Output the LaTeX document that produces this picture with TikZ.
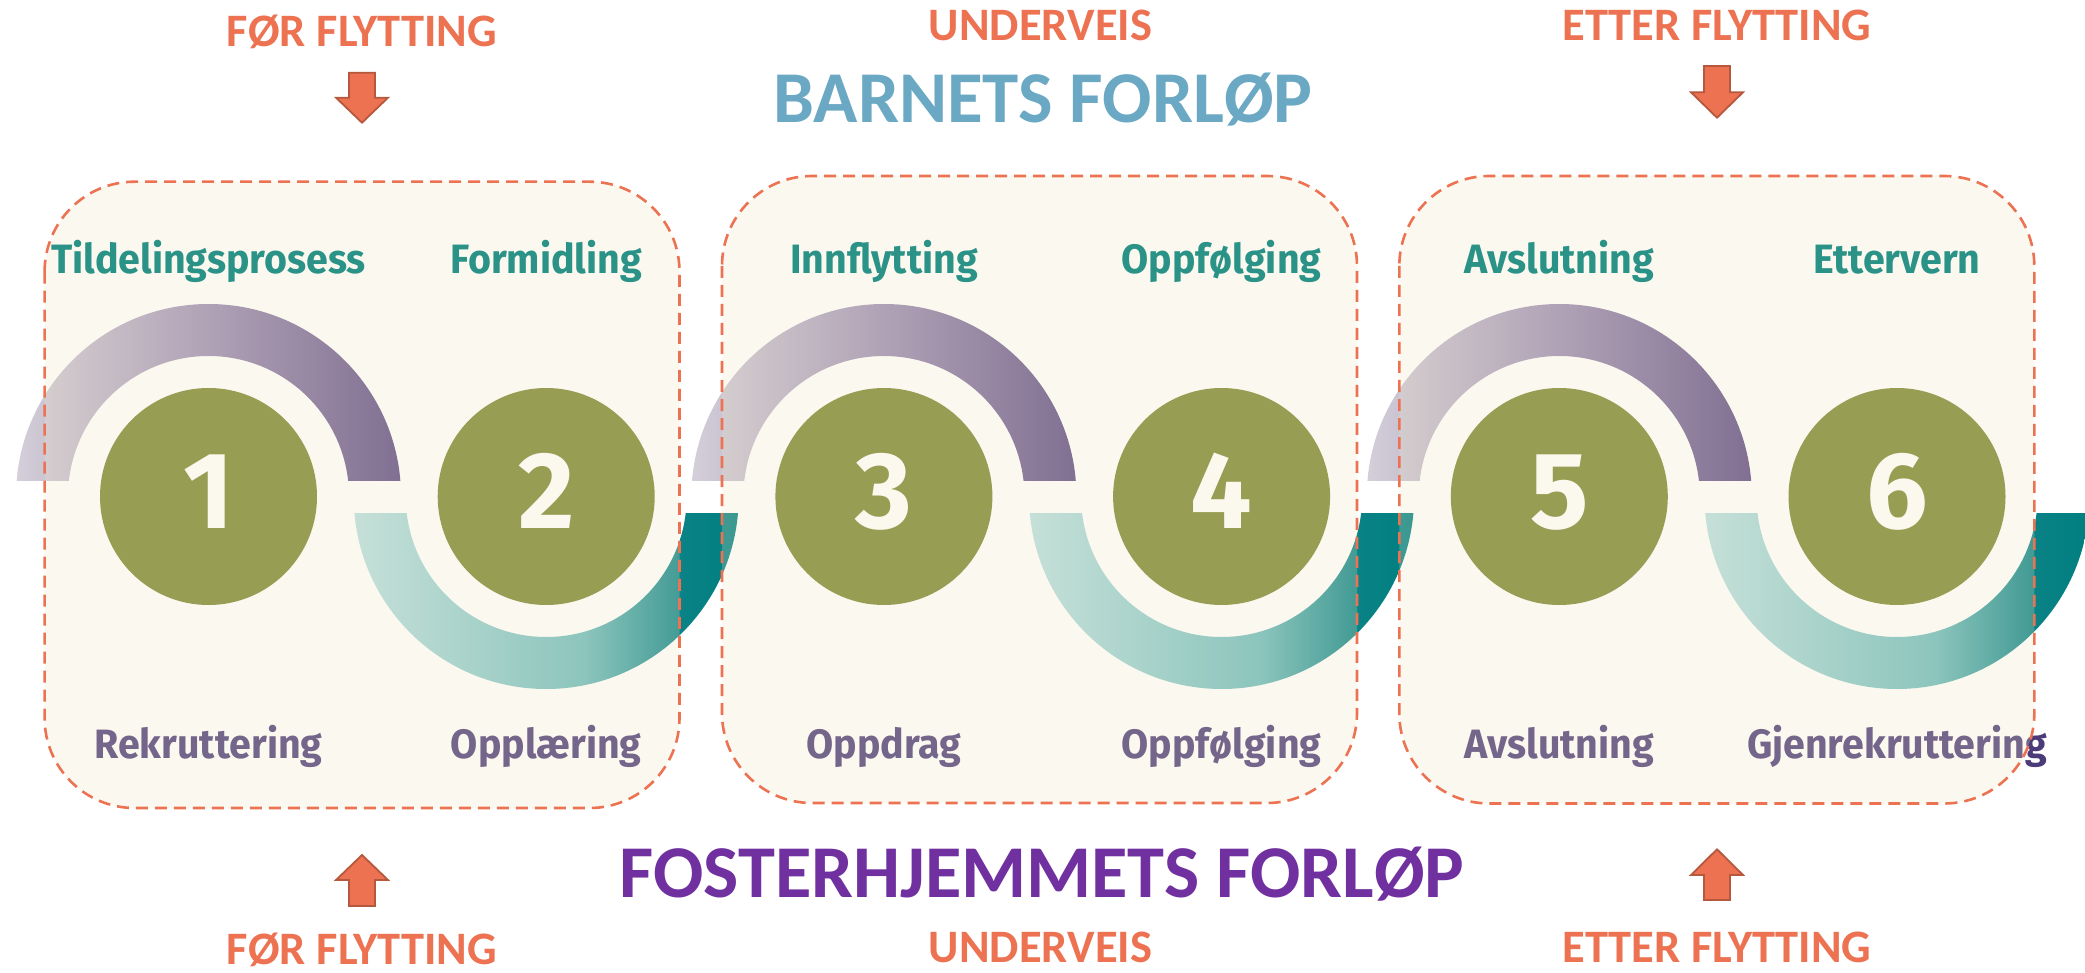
\documentclass[tikz,border=0pt]{standalone}
\usepackage{fontspec}
\newfontfamily\lblfont[FakeStretch=0.96]{Fira Sans}
\newfontfamily\numfont{Fira Sans}
\newfontfamily\hdfont{Carlito}
\definecolor{pA}{RGB}{212,207,217}
\definecolor{pB}{RGB}{155,139,178}
\definecolor{pC}{RGB}{92,72,130}
\definecolor{tA}{RGB}{184,222,224}
\definecolor{tB}{RGB}{107,186,187}
\definecolor{tC}{RGB}{10,130,134}
\definecolor{tD}{RGB}{0,127,128}
\definecolor{teallbl}{RGB}{42,146,134}
\definecolor{botlbl}{RGB}{75,59,120}
\definecolor{olive}{RGB}{152,157,84}
\definecolor{numcol}{RGB}{251,248,238}
\definecolor{orng}{RGB}{236,114,82}
\definecolor{orngdk}{RGB}{182,88,62}
\definecolor{blueH}{RGB}{106,168,196}
\definecolor{purpH}{RGB}{112,48,160}
\definecolor{boxfillc}{RGB}{239,231,195}
\pgfdeclarehorizontalshading{purpsh}{100bp}{color(0bp)=(pA); color(25bp)=(pA); color(50bp)=(pB); color(75bp)=(pC); color(100bp)=(pC)}
\pgfdeclarehorizontalshading{tealsh}{100bp}{color(0bp)=(tA); color(25bp)=(tA); color(55bp)=(tB); color(67.5bp)=(tC); color(75bp)=(tD); color(100bp)=(tD)}
\begin{document}
\begin{tikzpicture}[x=1pt,y=-1pt,
  stepcircle/.style={circle, fill=olive, minimum size=217pt, inner sep=0pt},
  numtext/.style={anchor=base, text=numcol, font=\numfont\bfseries\fontsize{109}{109}\selectfont, inner sep=0pt},
  toplbl/.style={anchor=base, text=teallbl, font=\lblfont\bfseries\fontsize{41}{41}\selectfont, inner sep=0pt},
  botlbl/.style={anchor=base, text=botlbl, font=\lblfont\bfseries\fontsize{41}{41}\selectfont, inner sep=0pt},
  phase/.style={anchor=base, text=orng, font=\hdfont\bfseries\fontsize{46.5}{46.5}\selectfont, inner sep=0pt},
  bigtitle/.style={anchor=base, font=\hdfont\bfseries\fontsize{73}{73}\selectfont, inner sep=0pt},
  boxfill/.style={fill=boxfillc, fill opacity=0.25, rounded corners=90pt},
  boxline/.style={draw=orng, line width=2.6pt, dash pattern=on 12pt off 7pt, rounded corners=90pt},
  blockarrow/.style={fill=orng, draw=orngdk, line width=1.8pt, line join=miter}
]
\useasboundingbox (0,0) rectangle (2085,973);
\fill[white] (0,0) rectangle (2085,973);

% purple arcs above steps 1,3,5
\foreach \cx in {208.5,883.9,1559.3} {
  \begin{scope}
    \clip (\cx-200,480) rectangle (\cx+200,290);
    \shade[shading=purpsh, even odd rule] (\cx,496.5) circle[radius=192.5] (\cx,496.5) circle[radius=140.5];
  \end{scope}
}
% teal arcs below steps 2,4,6
\foreach \cx in {546.2,1221.6,1897.0} {
  \begin{scope}
    \clip (\cx-200,513) rectangle (\cx+200,700);
    \shade[shading=tealsh, even odd rule] (\cx,496.5) circle[radius=192.5] (\cx,496.5) circle[radius=140.5];
  \end{scope}
}

% bottom labels (under the box tint)
\node[botlbl] (b1) at (208.5,758) {Rekruttering};
\node[botlbl] (b2) at (546.2,758) {Opplæring};
\node[botlbl] (b3) at (883.9,758) {Oppdrag};
\node[botlbl] (b4) at (1221.6,758) {Oppfølging};
\node[botlbl] (b5) at (1559.3,758) {Avslutning};
\node[botlbl] (b6) at (1897.0,758) {Gjenrekruttering};

% box tints
\fill[boxfill] (44.6,181.7) rectangle (679.5,808);
\fill[boxfill] (722,176) rectangle (1357,803);
\fill[boxfill] (1399.3,176) rectangle (2034.3,803.5);

% step circles
\node[stepcircle] (c1) at (208.5,496.5) {};
\node[stepcircle] (c2) at (546.2,496.5) {};
\node[stepcircle] (c3) at (883.9,496.5) {};
\node[stepcircle] (c4) at (1221.6,496.5) {};
\node[stepcircle] (c5) at (1559.3,496.5) {};
\node[stepcircle] (c6) at (1897.0,496.5) {};
\node[numtext] (n1) at (208.5,528) {1};
\node[numtext] (n2) at (546.2,528) {2};
\node[numtext] (n3) at (883.9,528) {3};
\node[numtext] (n4) at (1221.6,528) {4};
\node[numtext] (n5) at (1559.3,528) {5};
\node[numtext] (n6) at (1897.0,528) {6};

% top labels
\node[toplbl] (t1) at (208.5,273.3) {Tildelingsprosess};
\node[toplbl] (t2) at (546.2,273.3) {Formidling};
\node[toplbl] (t3) at (883.9,273.3) {Innflytting};
\node[toplbl] (t4) at (1221.6,273.3) {Oppfølging};
\node[toplbl] (t5) at (1559.3,273.3) {Avslutning};
\node[toplbl] (t6) at (1897.0,273.3) {Ettervern};

% dashed box outlines
\draw[boxline] (44.6,181.7) rectangle (679.5,808);
\draw[boxline] (722,176) rectangle (1357,803);
\draw[boxline] (1399.3,176) rectangle (2034.3,803.5);

% phase headings
\node[phase] (h1) at (362,47) {FØR FLYTTING};
\node[phase] (h2) at (1040.5,41) {UNDERVEIS};
\node[phase] (h3) at (1717,41) {ETTER FLYTTING};
\node[phase] (f1) at (362,964) {FØR FLYTTING};
\node[phase] (f2) at (1040.5,962) {UNDERVEIS};
\node[phase] (f3) at (1717,962) {ETTER FLYTTING};
\node[bigtitle, text=blueH] (barn) at (1043,123) {BARNETS FORLØP};
\node[bigtitle, text=purpH, font=\hdfont\bfseries\fontsize{74.5}{74.5}\selectfont] (fost) at (1042,897) {FOSTERHJEMMETS FORLØP};

% block arrows
\draw[blockarrow] (349,72.7) -- ++(26,0) -- ++(0,25) -- ++(13,0) -- ++(-26,25) -- ++(-26,-25) -- ++(13,0) -- cycle;
\draw[blockarrow] (1704,66) -- ++(26,0) -- ++(0,26.3) -- ++(13,0) -- ++(-26,25.4) -- ++(-26,-25.4) -- ++(13,0) -- cycle;
\draw[blockarrow] (349,906) -- ++(26,0) -- ++(0,-26) -- ++(13,0) -- ++(-26,-25) -- ++(-26,25) -- ++(13,0) -- cycle;
\draw[blockarrow] (1704,900) -- ++(26,0) -- ++(0,-25) -- ++(13,0) -- ++(-26,-25.7) -- ++(-26,25.7) -- ++(13,0) -- cycle;
\end{tikzpicture}
\end{document}
